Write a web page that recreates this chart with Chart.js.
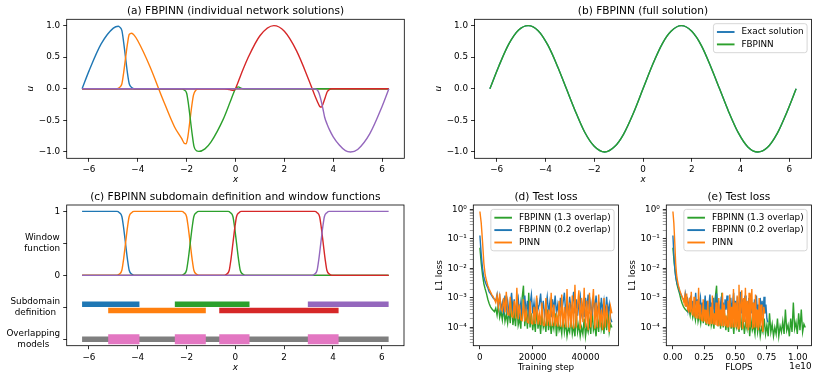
<!DOCTYPE html>
<html>
<head>
<meta charset="utf-8">
<script src="https://cdn.jsdelivr.net/npm/chart.js@4.4.0/dist/chart.umd.min.js"></script>
<style>
  html, body { margin: 0; padding: 0; background: #fff; }
  #fig { position: relative; width: 817px; height: 379px; overflow: hidden; background: #fff; }
  #fig canvas { position: absolute; }
</style>
</head>
<body>
<div id="fig">
  <canvas id="pa"></canvas>
  <canvas id="pb"></canvas>
  <canvas id="pc"></canvas>
  <canvas id="pd"></canvas>
  <canvas id="pe"></canvas>
</div>
<script>
// ---- data ----

// (a) individual subdomain network solutions, [x, u]
const netBlue = [[-6.28,0],[-6.0,0.28],[-5.5,0.71],[-5.0,0.96],[-4.8,0.99],[-4.75,0.98],[-4.65,0.92],[-4.58,0.74],[-4.5,0.49],[-4.42,0.24],[-4.35,0.08],[-4.25,0.02],[-4.15,0],[6.28,0]];
const netOrange = [[-6.28,0],[-4.85,0],[-4.75,0.02],[-4.65,0.08],[-4.58,0.25],[-4.5,0.49],[-4.42,0.72],[-4.35,0.86],[-4.25,0.88],[-4.15,0.85],[-4.0,0.76],[-3.5,0.35],[-3.0,-0.14],[-2.5,-0.6],[-2.2,-0.79],[-2.1,-0.86],[-2.02,-0.87],[-1.95,-0.76],[-1.88,-0.55],[-1.8,-0.3],[-1.72,-0.1],[-1.62,-0.02],[-1.5,0],[6.28,0]];
const netGreen = [[-6.28,0],[-2.2,0],[-2.1,-0.02],[-2.0,-0.07],[-1.93,-0.23],[-1.85,-0.48],[-1.77,-0.73],[-1.7,-0.91],[-1.6,-0.98],[-1.5,-0.99],[-1.25,-0.95],[-1.0,-0.84],[-0.5,-0.48],[-0.2,-0.19],[0,0],[0.12,0.03],[0.22,0.01],[0.35,0],[6.28,0]];
const netRed = [[-6.28,0],[-0.45,0],[-0.3,-0.007],[-0.18,-0.02],[-0.1,-0.025],[-0.02,-0.01],[0.05,0.05],[0.15,0.15],[0.25,0.25],[0.5,0.48],[1.0,0.84],[1.57,1.0],[2.0,0.91],[2.5,0.6],[3.0,0.14],[3.25,-0.11],[3.35,-0.2],[3.45,-0.28],[3.52,-0.29],[3.6,-0.22],[3.68,-0.13],[3.75,-0.05],[3.85,-0.01],[3.95,0],[6.28,0]];
const netPurple = [[-6.28,0],[3.15,0],[3.25,-0.002],[3.35,-0.02],[3.42,-0.07],[3.5,-0.18],[3.58,-0.32],[3.65,-0.45],[3.75,-0.56],[3.85,-0.65],[4.0,-0.76],[4.25,-0.89],[4.5,-0.98],[4.71,-1.0],[5.0,-0.96],[5.5,-0.71],[6.0,-0.28],[6.28,0]];

// (b) full solution, [x, u]
const exactSolution = [[-6.28,0],[-5.9,0.37],[-5.5,0.71],[-5.1,0.93],[-4.71,1.0],[-4.3,0.92],[-3.9,0.69],[-3.5,0.35],[-3.14,0],[-2.8,-0.33],[-2.4,-0.68],[-2.0,-0.91],[-1.57,-1.0],[-1.15,-0.91],[-0.8,-0.72],[-0.4,-0.39],[0,0],[0.4,0.39],[0.8,0.72],[1.15,0.91],[1.57,1.0],[2.0,0.91],[2.4,0.68],[2.8,0.33],[3.14,0],[3.5,-0.35],[3.9,-0.69],[4.3,-0.92],[4.71,-1.0],[5.1,-0.93],[5.5,-0.71],[5.9,-0.37],[6.28,0]];
const fbpinnSolution = [[-6.28,0],[-5.9,0.37],[-5.5,0.71],[-5.1,0.93],[-4.71,1.0],[-4.3,0.92],[-3.9,0.69],[-3.5,0.35],[-3.14,0],[-2.8,-0.33],[-2.4,-0.68],[-2.0,-0.91],[-1.57,-1.0],[-1.15,-0.91],[-0.8,-0.72],[-0.4,-0.39],[0,0],[0.4,0.39],[0.8,0.72],[1.15,0.91],[1.57,1.0],[2.0,0.91],[2.4,0.68],[2.8,0.33],[3.14,0],[3.5,-0.35],[3.9,-0.69],[4.3,-0.92],[4.71,-1.0],[5.1,-0.93],[5.5,-0.71],[5.9,-0.37],[6.28,0]];

// (c) window functions, [x, w]
const winBlue = [[-6.28,1],[-4.85,1],[-4.75,0.98],[-4.65,0.92],[-4.58,0.75],[-4.5,0.5],[-4.42,0.25],[-4.35,0.08],[-4.25,0.02],[-4.15,0],[6.28,0]];
const winOrange = [[-6.28,0],[-4.85,0],[-4.75,0.02],[-4.65,0.08],[-4.58,0.25],[-4.5,0.5],[-4.42,0.75],[-4.35,0.92],[-4.25,0.98],[-4.15,1],[-2.2,1],[-2.1,0.98],[-2.0,0.92],[-1.93,0.75],[-1.85,0.5],[-1.77,0.25],[-1.7,0.08],[-1.6,0.02],[-1.5,0],[6.28,0]];
const winGreen = [[-6.28,0],[-2.2,0],[-2.1,0.02],[-2.0,0.08],[-1.93,0.25],[-1.85,0.5],[-1.77,0.75],[-1.7,0.92],[-1.6,0.98],[-1.5,1],[-0.3,1],[-0.2,0.98],[-0.1,0.92],[-0.03,0.75],[0.05,0.5],[0.13,0.25],[0.2,0.08],[0.3,0.02],[0.4,0],[6.28,0]];
const winRed = [[-6.28,0],[-0.45,0],[-0.35,0.02],[-0.25,0.08],[-0.18,0.25],[-0.1,0.5],[-0.02,0.75],[0.05,0.92],[0.15,0.98],[0.25,1],[3.25,1],[3.35,0.98],[3.45,0.92],[3.52,0.75],[3.6,0.5],[3.68,0.25],[3.75,0.08],[3.85,0.02],[3.95,0],[6.28,0]];
const winPurple = [[-6.28,0],[3.15,0],[3.25,0.02],[3.35,0.08],[3.42,0.25],[3.5,0.5],[3.58,0.75],[3.65,0.92],[3.75,0.98],[3.85,1],[6.28,1]];

// (c) subdomains and overlaps
const subStart = [-6.28, -5.21, -2.48, -0.66, 2.97];
const subEnd = [-3.93, -1.21, 0.58, 4.23, 6.28];
const subRow = [-0.45, -0.55, -0.45, -0.55, -0.45];
const domainSpan = [-6.28, 6.28];
const overlapStart = [-5.21, -2.48, -0.66, 2.97];
const overlapEnd = [-3.93, -1.21, 0.58, 4.23];
const overlapRow = -1.0;

// (d)/(e) test loss, logged every 500 steps
const logEvery = 500;
const lossFbpinn13 = [0.05, 0.015, 6e-3, 3e-3, 2e-3, 1.4e-3, 9e-4, 6.5e-4, 5e-4, 4.3e-4,
  3.8e-4, 3.4e-4, 4.5e-4, 2.6e-4, 6e-4, 2.2e-4, 3.5e-4, 1.8e-4, 5e-4, 1.6e-4,
  2.8e-4, 1.4e-4, 4e-4, 1.4e-4, 8e-4, 1.2e-4, 3e-4, 1.1e-4, 6e-4, 1.2e-4,
  2e-4, 9e-5, 1.0e-3, 2.6e-3, 1.1e-4, 4e-4, 9e-5, 1.5e-3, 1.0e-4, 3e-4,
  8e-5, 2e-4, 7e-5, 5e-4, 9e-5, 2e-4, 6e-5, 3e-4, 1.0e-4, 1.5e-4,
  7e-5, 4e-4, 8e-5, 2e-4, 6e-5, 1.5e-4, 9e-5, 3e-4, 5e-5, 1.8e-4,
  8e-5, 1.2e-4, 6e-5, 2.5e-4, 7e-5, 1.5e-4, 5e-5, 1.0e-4, 7e-5, 2e-4,
  6e-5, 1.2e-4, 5e-5, 3e-4, 7e-5, 1.3e-4, 5e-5, 1.0e-4, 6e-5, 2e-4,
  5e-5, 1.1e-4, 7e-5, 1.6e-4, 6e-5, 4e-4, 8e-5, 1.2e-4, 5e-5, 2e-4,
  7e-5, 7e-4, 9e-5, 1.5e-4, 6e-5, 3e-4, 8e-5, 4e-4, 7e-5, 1.3e-4,
  1.0e-4];
const lossFbpinn02 = [0.13, 0.03, 1e-2, 5e-3, 3.5e-3, 2.7e-3, 2.2e-3, 1.6e-3, 1.4e-3, 1.2e-3,
  1.0e-3, 9e-4, 8e-4, 1.3e-3, 5e-4, 1.1e-3, 4e-4, 7e-4, 3.5e-4, 1.2e-3,
  4e-4, 8e-4, 3e-4, 6e-4, 1.5e-3, 3.5e-4, 9e-4, 2.8e-4, 6e-4, 1.0e-3,
  3e-4, 7e-4, 2.5e-4, 5e-4, 1.2e-3, 3e-4, 8e-4, 2.5e-4, 6e-4, 1.3e-3,
  3e-4, 7e-4, 2.5e-4, 1.0e-3, 4e-4, 6e-4, 1.4e-3, 3e-4, 8e-4, 2.5e-4,
  5e-4, 1.1e-3, 3e-4, 7e-4, 2.2e-4, 9e-4, 4e-4, 1.2e-3, 3e-4, 6e-4,
  2.5e-4, 1.0e-3, 3.5e-4, 7e-4, 1.5e-3, 3e-4, 8e-4, 2.5e-4, 1.1e-3, 4e-4,
  6e-4, 1.6e-3, 3e-4, 9e-4, 2.5e-4, 7e-4, 1.2e-3, 3e-4, 6e-4, 2.2e-4,
  1.0e-3, 4e-4, 1.3e-3, 3e-4, 7e-4, 2.5e-4, 9e-4, 4e-4, 1.2e-3, 3e-4,
  6e-4, 2e-4, 1.0e-3, 3.5e-4, 8e-4, 2.5e-4, 1.1e-3, 3e-4, 6e-4, 2e-4,
  1.5e-4];
const lossPinn = [0.85, 0.35, 0.08, 0.015, 6e-3, 3.8e-3, 2.6e-3, 2e-3, 1.6e-3, 1.3e-3,
  1.1e-3, 9e-4, 7e-4, 1.2e-3, 5e-4, 1.4e-3, 4.2e-4, 3.6e-4, 1.0e-3, 3.2e-4,
  1.6e-3, 2.8e-4, 2.6e-4, 1.1e-3, 2.4e-4, 2.2e-4, 8e-4, 2e-4, 2.2e-3, 1.9e-4,
  6e-4, 1.8e-4, 1.7e-4, 9e-4, 1.6e-4, 4e-4, 1.5e-4, 1.4e-4, 8e-4, 1.4e-4,
  1.3e-4, 5e-4, 1.3e-4, 1.2e-3, 1.25e-4, 3e-4, 1.2e-4, 7e-4, 1.2e-4, 1.15e-4,
  1.0e-3, 1.15e-4, 4e-4, 1.1e-4, 1.5e-3, 1.1e-4, 6e-4, 1.1e-4, 2.5e-4, 1.05e-4,
  8e-4, 1.05e-4, 1.3e-3, 1.0e-4, 5e-4, 1.0e-4, 2.0e-3, 1.0e-4, 7e-4, 1.0e-4,
  1.2e-3, 9e-5, 2.8e-3, 1.0e-4, 6e-4, 1.8e-3, 9e-5, 1.0e-3, 1.5e-4, 2.2e-3,
  1.0e-4, 8e-4, 8e-5, 1.5e-3, 1.0e-4, 5e-4, 2.0e-3, 9e-5, 7e-4, 1.0e-4,
  1.3e-3, 1.0e-4, 4e-4, 8e-5, 1.0e-3, 1.0e-4, 6e-4, 1.5e-4, 7e-5, 5e-4,
  3e-4];
// cost of one training step
const flopsPerStep13 = 2.12e5;
const flopsPerStep02 = 1.52e5;
const flopsPerStepPinn = 1.47e5;

// tick labels
const xTicks = [-6, -4, -2, 0, 2, 4, 6];
const uTicks = [-1, -0.5, 0, 0.5, 1];
const cTickValues = [1, 0.5, 0, -0.5, -1];
const cTickLabels = [['1'], ['Window', 'function'], ['0'], ['Subdomain', 'definition'], ['Overlapping', 'models']];
const stepTicks = [0, 20000, 40000];
const flopsTicks = [0, 0.25e10, 0.5e10, 0.75e10, 1.0e10];
const flopsTickLabels = ['0.00', '0.25', '0.50', '0.75', '1.00'];
const lossExps = [-4, -3, -2, -1, 0];

// ---- drawing ----
const C = { blue: '#1f77b4', orange: '#ff7f0e', green: '#2ca02c', red: '#d62728', purple: '#9467bd', gray: '#7f7f7f', pink: '#e377c2' };
const FONT = '"DejaVu Sans", sans-serif';
Chart.defaults.font.family = FONT;
Chart.defaults.font.size = 8.8;
Chart.defaults.color = '#000';

const signed = (v, d) => (v < 0 ? '\u2212' : '') + Math.abs(v).toFixed(d);
const SUP = { '-': '\u207b', '0': '\u2070', '1': '\u00b9', '2': '\u00b2', '3': '\u00b3', '4': '\u2074' };
const isMajor = v => lossExps.some(e => Math.abs(Math.log10(v) - e) < 1e-6);
const powLabel = v => '10' + String(Math.round(Math.log10(v))).split('').map(c => SUP[c]).join('');

// minor + major ticks for the log axis
const logTickValues = [];
for (let e = -5; e <= 0; e++) {
  for (let k = 1; k <= 9; k++) {
    const v = k * Math.pow(10, e);
    if (v >= 2.5e-5 && v <= 1.4) logTickValues.push(v);
  }
}

function curve(label, pts, color, width, smooth) {
  return {
    label, data: pts.map(([x, y]) => ({ x, y })),
    borderColor: color, backgroundColor: color, borderWidth: width,
    pointRadius: 0, pointHoverRadius: 0, fill: false, tension: 0,
    cubicInterpolationMode: smooth ? 'monotone' : 'default'
  };
}

function bar(x0, x1, y, color, width) {
  return curve('', [[x0, y], [x1, y]], color, width, false);
}

function lossCurve(label, losses, cost, color) {
  return curve(label, losses.map((l, i) => [i * logEvery * cost, l]), color, 1.4, false);
}

function linAxis(min, max, values, fmt) {
  return {
    type: 'linear', min, max,
    afterBuildTicks: s => { s.ticks = values.map(v => ({ value: v })); },
    ticks: { autoSkip: false, maxRotation: 0, minRotation: 0, padding: 3, callback: fmt },
    grid: { drawOnChartArea: false, drawTicks: true, tickLength: 3.5, tickColor: '#000', tickWidth: 0.8 },
    border: { display: false }
  };
}

function lossAxis() {
  return {
    type: 'logarithmic', min: 2.4e-5, max: 1.41,
    afterBuildTicks: s => { s.ticks = logTickValues.map(v => ({ value: v })); },
    ticks: { autoSkip: false, padding: 3, callback: v => isMajor(v) ? powLabel(v) : '' },
    grid: {
      drawOnChartArea: false, drawTicks: true, tickLength: 3.5,
      tickColor: ctx => (ctx.tick && isMajor(ctx.tick.value)) ? '#000' : '#444',
      tickWidth: ctx => (ctx.tick && isMajor(ctx.tick.value)) ? 0.8 : 0.5
    },
    border: { display: false }
  };
}

// frame, titles, axis labels and matplotlib-like legend
function deco(o) {
  return {
    id: 'deco',
    afterDraw(chart) {
      const ctx = chart.ctx, a = chart.chartArea;
      const cx = (a.left + a.right) / 2;
      ctx.save();
      ctx.strokeStyle = '#000';
      ctx.lineWidth = 0.8;
      ctx.strokeRect(a.left, a.top, a.right - a.left, a.bottom - a.top);

      ctx.fillStyle = '#000';
      ctx.textAlign = 'center';
      ctx.textBaseline = 'alphabetic';
      ctx.font = '10.6px ' + FONT;
      ctx.fillText(o.title, cx, a.top - 5.3);

      ctx.font = (o.italic ? 'italic ' : '') + '8.8px ' + FONT;
      ctx.fillText(o.xLabel, cx, a.bottom + 24);

      if (o.yLabel) {
        ctx.font = '8.8px ' + FONT;
        const widest = Math.max(...chart.scales.y.ticks.map(t => ctx.measureText(t.label || '').width));
        ctx.font = (o.italic ? 'italic ' : '') + '8.8px ' + FONT;
        ctx.save();
        ctx.translate(a.left - 6.5 - widest - 3.5 - 2, (a.top + a.bottom) / 2);
        ctx.rotate(-Math.PI / 2);
        ctx.fillText(o.yLabel, 0, 0);
        ctx.restore();
      }

      if (o.offsetText) {
        ctx.font = '8.8px ' + FONT;
        ctx.textAlign = 'right';
        ctx.fillText(o.offsetText, a.right, a.bottom + 23);
      }

      if (o.yText) {
        ctx.font = '8.8px ' + FONT;
        ctx.textAlign = 'center';
        ctx.textBaseline = 'middle';
        o.yText.values.forEach((v, i) => {
          const lines = o.yText.labels[i];
          const y = chart.scales.y.getPixelForValue(v);
          const bw = Math.max(...lines.map(s => ctx.measureText(s).width));
          const x = a.left - 6.5 - bw / 2;
          lines.forEach((s, k) => ctx.fillText(s, x, y + (k - (lines.length - 1) / 2) * 10.5));
        });
      }

      if (o.legend) {
        ctx.font = '8.8px ' + FONT;
        const items = o.legend.map(i => chart.data.datasets[i]);
        const tw = Math.max(...items.map(d => ctx.measureText(d.label).width));
        const pad = 3.5, handle = 17.6, gap = 7, pitch = 12.4, first = 8.3;
        const w = pad + handle + gap + tw + pad;
        const h = first * 2 + pitch * (items.length - 1);
        const x0 = a.right - 4.4 - w, y0 = a.top + 4.4;
        ctx.beginPath();
        if (ctx.roundRect) ctx.roundRect(x0, y0, w, h, 2.5); else ctx.rect(x0, y0, w, h);
        ctx.fillStyle = 'rgba(255,255,255,0.8)';
        ctx.fill();
        ctx.strokeStyle = '#cccccc';
        ctx.lineWidth = 0.8;
        ctx.stroke();
        items.forEach((d, k) => {
          const y = y0 + first + k * pitch;
          ctx.strokeStyle = d.borderColor;
          ctx.lineWidth = d.borderWidth + 0.5;
          ctx.beginPath();
          ctx.moveTo(x0 + pad, y);
          ctx.lineTo(x0 + pad + handle, y);
          ctx.stroke();
          ctx.fillStyle = '#000';
          ctx.textAlign = 'left';
          ctx.textBaseline = 'middle';
          ctx.fillText(d.label, x0 + pad + handle + gap, y);
        });
      }
      ctx.restore();
    }
  };
}

function makePanel(id, cv, plot, datasets, xAxis, yAxis, decoOpts) {
  const el = document.getElementById(id);
  el.width = cv.w; el.height = cv.h;
  el.style.left = cv.x + 'px'; el.style.top = cv.y + 'px';
  el.style.width = cv.w + 'px'; el.style.height = cv.h + 'px';
  // later datasets are drawn on top, as in matplotlib
  datasets.forEach((d, i) => { d.order = datasets.length - i; });
  const xH = cv.y + cv.h - plot.b, yW = plot.l - cv.x;
  xAxis.afterFit = s => { s.height = xH; };
  yAxis.afterFit = s => { s.width = yW; };
  return new Chart(el, {
    type: 'line',
    data: { datasets },
    options: {
      responsive: false, animation: false, devicePixelRatio: 1, events: [],
      layout: { padding: { top: plot.t - cv.y, right: cv.x + cv.w - plot.r, left: 0, bottom: 0 } },
      scales: { x: xAxis, y: yAxis },
      plugins: { legend: { display: false }, tooltip: { enabled: false } }
    },
    plugins: [deco(decoOpts)]
  });
}

const xFmt = v => signed(v, 0);
const uFmt = v => signed(v, 1);

// (a)
makePanel('pa', { x: 0, y: 0, w: 410, h: 190 }, { l: 66.7, t: 19.3, r: 404.3, b: 158.3 },
  [
    curve('net 1', netBlue, C.blue, 1.4, true),
    curve('net 2', netOrange, C.orange, 1.4, true),
    curve('net 3', netGreen, C.green, 1.4, true),
    curve('net 4', netRed, C.red, 1.4, true),
    curve('net 5', netPurple, C.purple, 1.4, true)
  ],
  linAxis(-6.91, 6.91, xTicks, xFmt), linAxis(-1.1, 1.1, uTicks, uFmt),
  { title: '(a) FBPINN (individual network solutions)', xLabel: 'x', yLabel: 'u', italic: true });

// (b)
makePanel('pb', { x: 410, y: 0, w: 407, h: 190 }, { l: 474.5, t: 19.3, r: 811.5, b: 158.3 },
  [
    curve('Exact solution', exactSolution, C.blue, 1.4, true),
    curve('FBPINN', fbpinnSolution, C.green, 1.4, true)
  ],
  linAxis(-6.91, 6.91, xTicks, xFmt), linAxis(-1.1, 1.1, uTicks, uFmt),
  { title: '(b) FBPINN (full solution)', xLabel: 'x', yLabel: 'u', italic: true, legend: [0, 1] });

// (c)
const subColors = [C.blue, C.orange, C.green, C.red, C.purple];
const cData = [
  curve('w1', winBlue, C.blue, 1.4, true),
  curve('w2', winOrange, C.orange, 1.4, true),
  curve('w3', winGreen, C.green, 1.4, true),
  curve('w4', winRed, C.red, 1.4, true),
  curve('w5', winPurple, C.purple, 1.4, true)
];
subStart.forEach((s, i) => cData.push(bar(s, subEnd[i], subRow[i], subColors[i], 5.5)));
cData.push(bar(domainSpan[0], domainSpan[1], overlapRow, C.gray, 5.5));
overlapStart.forEach((s, i) => cData.push(bar(s, overlapEnd[i], overlapRow, C.pink, 10)));
makePanel('pc', { x: 0, y: 190, w: 415, h: 189 }, { l: 66.7, t: 205, r: 404, b: 345.7 },
  cData,
  linAxis(-6.91, 6.91, xTicks, xFmt), linAxis(-1.1, 1.1, cTickValues, () => ''),
  { title: '(c) FBPINN subdomain definition and window functions', xLabel: 'x', italic: true,
    yText: { values: cTickValues, labels: cTickLabels } });

// (d)
makePanel('pd', { x: 415, y: 190, w: 210, h: 189 }, { l: 473.3, t: 205, r: 618.5, b: 345.7 },
  [
    lossCurve('FBPINN (1.3 overlap)', lossFbpinn13, 1, C.green),
    lossCurve('FBPINN (0.2 overlap)', lossFbpinn02, 1, C.blue),
    lossCurve('PINN', lossPinn, 1, C.orange)
  ],
  linAxis(-2500, 52500, stepTicks, v => String(v)), lossAxis(),
  { title: '(d) Test loss', xLabel: 'Training step', yLabel: 'L1 loss', legend: [0, 1, 2] });

// (e)
makePanel('pe', { x: 620, y: 190, w: 197, h: 189 }, { l: 666.3, t: 205, r: 811.5, b: 345.7 },
  [
    lossCurve('FBPINN (1.3 overlap)', lossFbpinn13, flopsPerStep13, C.green),
    lossCurve('FBPINN (0.2 overlap)', lossFbpinn02, flopsPerStep02, C.blue),
    lossCurve('PINN', lossPinn, flopsPerStepPinn, C.orange)
  ],
  linAxis(-0.053e10, 1.11e10, flopsTicks, (v, i) => flopsTickLabels[i]), lossAxis(),
  { title: '(e) Test loss', xLabel: 'FLOPS', yLabel: 'L1 loss', legend: [0, 1, 2], offsetText: '1e10' });
</script>
</body>
</html>
